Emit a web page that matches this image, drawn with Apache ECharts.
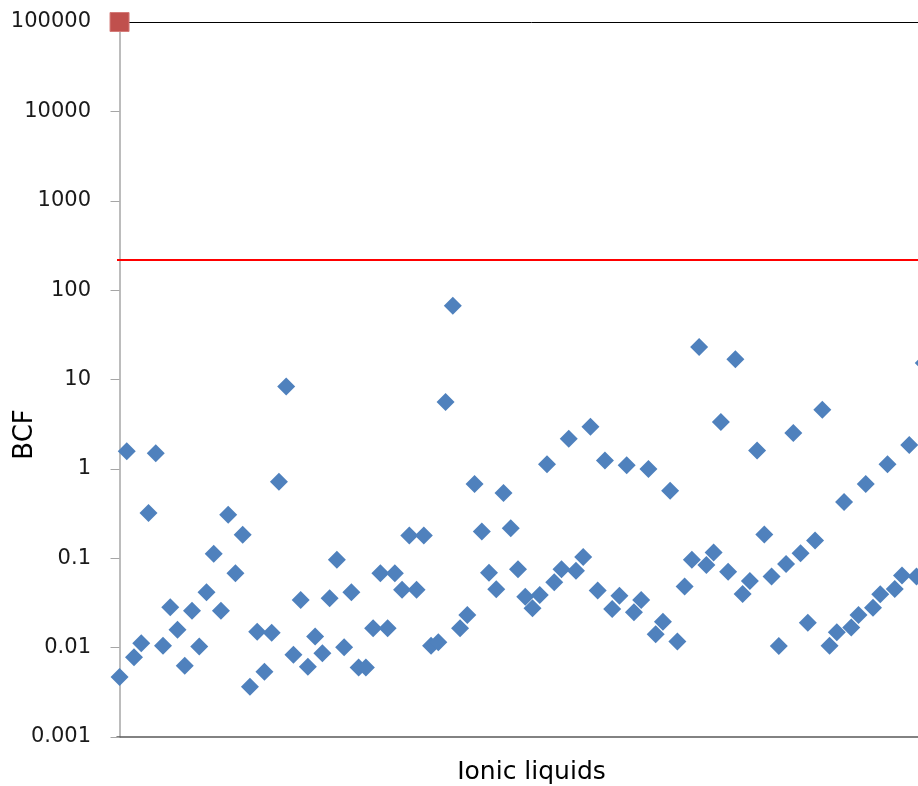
<!DOCTYPE html>
<html>
<head>
<meta charset="utf-8">
<script src="https://cdn.jsdelivr.net/npm/echarts@6/dist/echarts.min.js"></script>
<style>
html, body { margin: 0; padding: 0; background: #fff; overflow: hidden; }
#chart { width: 960px; height: 786px; }
</style>
</head>
<body>
<div id="chart"></div>
<script>
// ---- data ----
const bcfValues = [
  0.0047, 1.57, 0.0078, 0.0112, 0.32, 1.50, 0.0105, 0.0283, 0.0158, 0.00628,
  0.0258, 0.0103, 0.0417, 0.112, 0.0258, 0.306, 0.068, 0.183, 0.00366, 0.0151,
  0.00538, 0.0147, 0.718, 8.37, 0.0083, 0.0342, 0.00612, 0.0133, 0.00865, 0.0357,
  0.096, 0.0101, 0.0417, 0.0060, 0.0060, 0.0165, 0.068, 0.0165, 0.068, 0.0443,
  0.18, 0.0443, 0.18, 0.0105, 0.0115, 5.6, 67, 0.0165, 0.0232, 0.676,
  0.199, 0.069, 0.045, 0.536, 0.217, 0.0755, 0.0372, 0.0276, 0.0389, 1.13,
  0.054, 0.0755, 2.17, 0.0723, 0.103, 2.96, 0.0435, 1.24, 0.0271, 0.038,
  1.10, 0.0249, 0.0342, 1.0, 0.0141, 0.0195, 0.569, 0.0117, 0.0482, 0.096,
  23.1, 0.0843, 0.116, 3.34, 0.0705, 16.9, 0.0399, 0.0558, 1.61, 0.184,
  0.0624, 0.0104, 0.0865, 2.52, 0.114, 0.019, 0.158, 4.59, 0.0105, 0.0149,
  0.425, 0.0168, 0.0232, 0.676, 0.028, 0.0396, 1.13, 0.0454, 0.064, 1.85,
  0.0624, 15.3
];
const referencePoint = [0, 100000];
const thresholdBCF = 219;
const yTickLabels = ['0.001', '0.01', '0.1', '1', '10', '100', '1000', '10000', '100000'];
const yAxisTitle = 'BCF';
const xAxisTitle = 'Ionic liquids';

// ---- chart ----
const chart = echarts.init(document.getElementById('chart'), null, { renderer: 'canvas' });
const font = 'DejaVu Sans';
const pxPerUnit = 7.245;
const gridLeft = 117, gridRight = 14;
const gridWidth = 960 - gridLeft - gridRight;
const xMin = -0.35;
const xMax = xMin + gridWidth / pxPerUnit;

chart.setOption({
  animation: false,
  backgroundColor: '#fff',
  grid: { left: gridLeft, right: gridRight, top: 22, bottom: 49, containLabel: false, outerBoundsMode: 'none' },
  xAxis: [{
    type: 'value',
    min: xMin,
    max: xMax,
    position: 'bottom',
    name: xAxisTitle,
    nameLocation: 'middle',
    nameGap: 23,
    nameMoveOverlap: false,
    nameTextStyle: { fontFamily: font, fontSize: 25, color: '#000' },
    axisLine: { show: true, onZero: false, lineStyle: { color: '#595959', width: 1.5 } },
    axisTick: { show: false },
    axisLabel: { show: false },
    splitLine: { show: false }
  }, {
    type: 'value',
    min: xMin,
    max: xMax,
    position: 'top',
    axisLine: { show: true, onZero: false, lineStyle: { color: '#000', width: 1 } },
    axisTick: { show: false },
    axisLabel: { show: false },
    splitLine: { show: false }
  }],
  yAxis: {
    type: 'log',
    logBase: 10,
    min: 0.001,
    max: 100000,
    interval: 1,
    name: yAxisTitle,
    nameLocation: 'middle',
    nameRotate: 90,
    nameGap: 79,
    nameMoveOverlap: false,
    nameTextStyle: { fontFamily: font, fontSize: 26, color: '#000', padding: [0, 110, 0, 0] },
    axisLine: { show: true, lineStyle: { color: '#A6A6A6', width: 1.5 } },
    axisTick: { show: true, inside: false, length: 9, lineStyle: { color: '#A6A6A6', width: 1 } },
    axisLabel: {
      margin: 26,
      fontFamily: font,
      fontSize: 21,
      color: '#1a1a1a',
      formatter: function (v) {
        const i = Math.round(Math.log10(v)) + 3;
        return yTickLabels[i] !== undefined ? yTickLabels[i] : '';
      }
    },
    splitLine: { show: false }
  },
  series: [{
    type: 'scatter',
    name: 'BCF',
    symbol: 'diamond',
    symbolSize: 18,
    itemStyle: { color: '#4F81BD', opacity: 1 },
    data: bcfValues.map(function (v, i) { return [i, v]; }),
    markLine: {
      silent: true,
      symbol: ['none', 'none'],
      label: { show: false },
      lineStyle: { color: '#FF0000', width: 2, type: 'solid' },
      data: [{ yAxis: thresholdBCF }]
    },
    z: 3
  }, {
    type: 'scatter',
    name: 'ref',
    symbol: 'rect',
    symbolSize: 19,
    itemStyle: { color: '#C0504D', borderColor: '#D47B78', borderWidth: 1, opacity: 1 },
    data: [referencePoint],
    clip: false,
    z: 4
  }]
});
</script>
</body>
</html>
